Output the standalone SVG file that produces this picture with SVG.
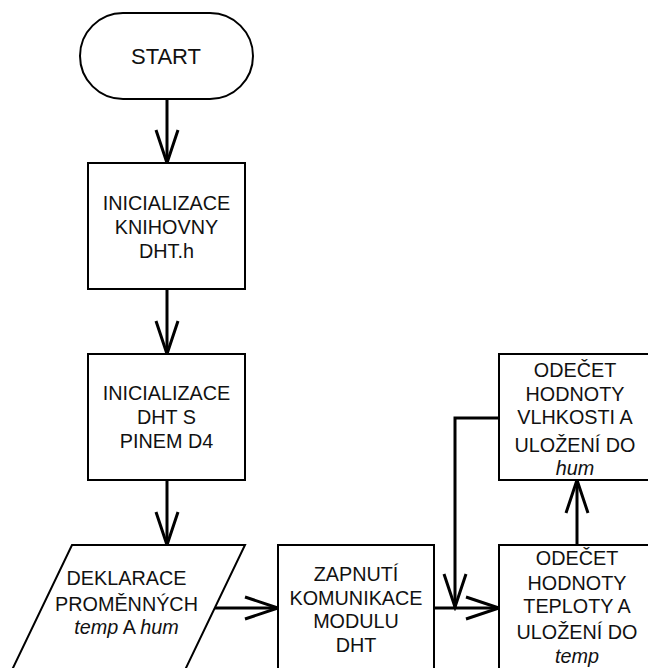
<svg xmlns="http://www.w3.org/2000/svg" width="648" height="668" viewBox="0 0 648 668">
<defs>
<marker id="arr" markerUnits="userSpaceOnUse" viewBox="-36 -14 40 28" markerWidth="40" markerHeight="28" refX="0" refY="0" orient="auto">
<path d="M-33,-11 L0,0 L-33,11" fill="none" stroke="#000" stroke-width="3"/>
</marker>
</defs>
<style>
.shape{fill:#fff;stroke:#000;stroke-width:2}
.t{font-family:"Liberation Sans",Arial,sans-serif;font-size:19.8px;fill:#111;text-anchor:middle}
.it{font-style:italic}
.c{fill:none;stroke:#000;stroke-width:3}
</style>
<rect width="648" height="668" fill="#fff"/>
<g id="connectors">
<line class="c" x1="167" y1="99" x2="167" y2="163" marker-end="url(#arr)"/>
<line class="c" x1="167" y1="289" x2="167" y2="354" marker-end="url(#arr)"/>
<line class="c" x1="167" y1="480" x2="167" y2="545" marker-end="url(#arr)"/>
<line class="c" x1="210" y1="608" x2="278" y2="608" marker-end="url(#arr)"/>
<line class="c" x1="434" y1="608" x2="499" y2="608" marker-end="url(#arr)"/>
<polyline class="c" points="499,418 455,418 455,607" marker-end="url(#arr)"/>
<line class="c" x1="577" y1="545" x2="577" y2="480" marker-end="url(#arr)"/>
</g>
<g id="start">
<rect class="shape" x="80" y="13" width="173" height="86" rx="43" ry="43"/>
<text class="t" x="166" y="64" style="font-size:22px">START</text>
</g>
<g id="init-lib">
<rect class="shape" x="88" y="163" width="157" height="126"/>
<text class="t" x="166.5" y="210">INICIALIZACE</text>
<text class="t" x="166.5" y="234">KNIHOVNY</text>
<text class="t" x="166.5" y="258">DHT.h</text>
</g>
<g id="init-dht">
<rect class="shape" x="88" y="354" width="157" height="126"/>
<text class="t" x="166.5" y="400">INICIALIZACE</text>
<text class="t" x="166.5" y="424">DHT S</text>
<text class="t" x="166.5" y="448">PINEM D4</text>
</g>
<g id="declare">
<polygon class="shape" points="72,545 245,545 185,670 12,670"/>
<text class="t" x="126.5" y="585">DEKLARACE</text>
<text class="t" x="126.5" y="611">PROMĚNNÝCH</text>
<text class="t" x="126.5" y="634"><tspan class="it">temp</tspan> A <tspan class="it">hum</tspan></text>
</g>
<g id="comm">
<rect class="shape" x="278" y="545" width="156" height="130"/>
<text class="t" x="356" y="581">ZAPNUTÍ</text>
<text class="t" x="356" y="605">KOMUNIKACE</text>
<text class="t" x="356" y="628">MODULU</text>
<text class="t" x="356" y="652">DHT</text>
</g>
<g id="read-temp">
<rect class="shape" x="499" y="545" width="160" height="130"/>
<text class="t" x="577" y="565">ODEČET</text>
<text class="t" x="577" y="590">HODNOTY</text>
<text class="t" x="577" y="613">TEPLOTY A</text>
<text class="t" x="577" y="639">ULOŽENÍ DO</text>
<text class="t it" x="577" y="663">temp</text>
</g>
<g id="read-hum">
<rect class="shape" x="499" y="354" width="160" height="126"/>
<text class="t" x="575" y="377">ODEČET</text>
<text class="t" x="575" y="401">HODNOTY</text>
<text class="t" x="575" y="424">VLHKOSTI A</text>
<text class="t" x="575" y="452">ULOŽENÍ DO</text>
<text class="t it" x="575" y="475">hum</text>
</g>
</svg>
